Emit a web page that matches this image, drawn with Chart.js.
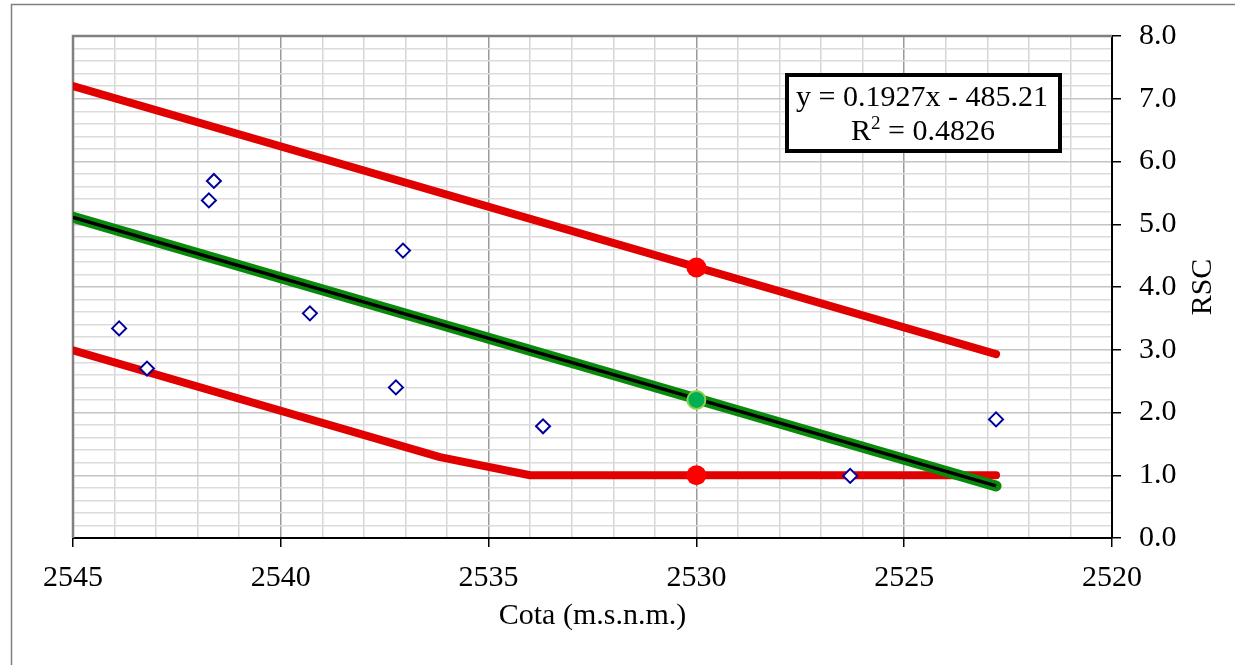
<!DOCTYPE html>
<html>
<head>
<meta charset="utf-8">
<title>RSC vs Cota</title>
<script src="https://cdn.jsdelivr.net/npm/chart.js@4/dist/chart.umd.min.js"></script>
<style>
  html, body { margin: 0; padding: 0; background: #fff; }
  #wrap { width: 1235px; height: 665px; }
</style>
</head>
<body>
<div id="wrap"><canvas id="chart_rsc" width="1235" height="665"></canvas></div>
<script>
const canvasRsc = document.getElementById('chart_rsc');

/* DATA */
// muestras: cota (m.s.n.m.) y RSC
const COTA = [2543.89, 2543.22, 2541.73, 2541.61, 2539.30, 2537.06, 2537.23, 2533.69, 2526.30, 2522.79];
const RSC  = [3.34, 2.70, 5.38, 5.69, 3.58, 4.58, 2.40, 1.78, 0.99, 1.89];

// linea de tendencia y banda
const TREND_X = [2545, 2522.79];
const TREND_Y = [5.11, 0.83];
const UPPER_X = [2545, 2522.79];
const UPPER_Y = [7.20, 2.93];
const LOWER_X = [2545, 2536.17, 2534.0, 2522.79];
const LOWER_Y = [2.99, 1.29, 1.0, 1.0];

// puntos marcados en cota 2530
const MARK_X = [2530];
const MARK_UPPER = [4.31];
const MARK_MID = [2.2];
const MARK_LOWER = [1.0];

const X_MIN = 2520, X_MAX = 2545, X_STEP = 1, X_MAJOR = 5;
const Y_MIN = 0, Y_MAX = 8, Y_STEP = 0.2, Y_MAJOR = 1;

const EQ_LINE_1 = 'y = 0.1927x - 485.21';
const EQ_LINE_2 = '0.4826';
const X_TITLE = 'Cota (m.s.n.m.)';
const Y_TITLE = 'RSC';

const FONT = "'Liberation Serif', 'Times New Roman', serif";
const FONT_SIZE = 30;

const toPoints = (xs, ys) => xs.map((x, i) => ({ x: x, y: ys[i] }));

const isMajor = (v, step) => Math.abs(v / step - Math.round(v / step)) < 1e-6;

/* DATA STRUCTURE */
const LINE = (data, color, width, order, cap) => {
    return {
        type: 'line',
        data: data,
        borderColor: color,
        backgroundColor: color,
        borderWidth: width,
        borderCapStyle: cap || 'round',
        borderJoinStyle: 'round',
        pointRadius: 0,
        fill: false,
        tension: 0,
        clip: 0,
        order: order
    };
};

const DOT = (data, fill, border, bw, r, order) => {
    return {
        type: 'scatter',
        data: data,
        backgroundColor: fill,
        borderColor: border,
        borderWidth: bw,
        pointRadius: r,
        pointHoverRadius: r,
        order: order
    };
};

/* extra drawing: frame, axis titles, equation box */
const decorations = {
    id: 'decorations',
    beforeDraw(chart) {
        const c = chart.ctx;
        c.save();
        c.fillStyle = '#fff';
        c.fillRect(0, 0, chart.width, chart.height);
        c.restore();
    },
    beforeDatasetsDraw(chart) {
        const c = chart.ctx;
        const a = chart.chartArea;
        c.save();
        c.strokeStyle = '#808080';
        c.lineWidth = 2.5;
        c.beginPath();
        c.moveTo(a.left, a.bottom);
        c.lineTo(a.left, a.top);
        c.lineTo(a.right, a.top);
        c.stroke();
        c.restore();
    },
    afterDraw(chart) {
        const c = chart.ctx;
        const a = chart.chartArea;
        c.save();

        // chart frame
        c.strokeStyle = '#7f7f7f';
        c.lineWidth = 1.5;
        c.beginPath();
        c.moveTo(11.5, chart.height);
        c.lineTo(11.5, 4.5);
        c.lineTo(chart.width, 4.5);
        c.stroke();

        // axis titles
        c.fillStyle = '#000';
        c.font = FONT_SIZE + 'px ' + FONT;
        c.textAlign = 'center';
        c.textBaseline = 'middle';
        c.fillText(X_TITLE, (a.left + a.right) / 2, 616);
        c.save();
        c.translate(1203, (a.top + a.bottom) / 2);
        c.rotate(-Math.PI / 2);
        c.fillText(Y_TITLE, 0, 0);
        c.restore();

        // equation box
        c.fillStyle = '#fff';
        c.fillRect(785, 73, 277, 80);
        c.strokeStyle = '#000';
        c.lineWidth = 4;
        c.strokeRect(787, 75, 273, 76);
        c.fillStyle = '#000';
        c.font = FONT_SIZE + 'px ' + FONT;
        c.textAlign = 'center';
        c.fillText(EQ_LINE_1, 922, 98);

        // R² line with superscript
        const r = 'R', sup = '2', rest = ' = ' + EQ_LINE_2;
        c.font = FONT_SIZE + 'px ' + FONT;
        const wR = c.measureText(r).width;
        const wRest = c.measureText(rest).width;
        c.font = '19px ' + FONT;
        const wSup = c.measureText(sup).width;
        const total = wR + wSup + wRest;
        let x0 = 923 - total / 2;
        c.textAlign = 'left';
        c.font = FONT_SIZE + 'px ' + FONT;
        c.fillText(r, x0, 132);
        c.font = '19px ' + FONT;
        c.fillText(sup, x0 + wR, 124);
        c.font = FONT_SIZE + 'px ' + FONT;
        c.fillText(rest, x0 + wR + wSup, 132);

        c.restore();
    }
};

/* Scatter Chart */
var chartRsc = new Chart(canvasRsc, {
    type: 'scatter',
    data: {
        datasets: [
            LINE(toPoints(UPPER_X, UPPER_Y), '#e00000', 8, 9),
            LINE(toPoints(LOWER_X, LOWER_Y), '#e00000', 8, 9),
            LINE(toPoints(TREND_X, TREND_Y), '#0a8a0a', 11, 8),
            LINE(toPoints(TREND_X, TREND_Y), '#000000', 3.5, 7, 'butt'),
            DOT(toPoints(MARK_X, MARK_UPPER), '#ff0000', '#ff0000', 0, 10, 5),
            DOT(toPoints(MARK_X, MARK_LOWER), '#ff0000', '#ff0000', 0, 10, 5),
            DOT(toPoints(MARK_X, MARK_MID), '#00b050', '#92d050', 2, 9, 4),
            {
                type: 'scatter',
                data: toPoints(COTA, RSC),
                pointStyle: 'rectRot',
                pointRadius: 7,
                pointHoverRadius: 7,
                borderColor: '#00009c',
                backgroundColor: '#ffffff',
                borderWidth: 2,
                order: 1
            }
        ]
    },
    options: {
        responsive: false,
        animation: false,
        events: [],
        layout: { padding: { left: 73, top: 35, right: 0, bottom: 0 } },
        plugins: {
            legend: { display: false },
            tooltip: { enabled: false }
        },
        scales: {
            x: {
                type: 'linear',
                position: 'bottom',
                reverse: true,
                min: X_MIN,
                max: X_MAX,
                afterFit: (scale) => { scale.height = 127; },
                ticks: {
                    stepSize: X_STEP,
                    maxTicksLimit: 100,
                    autoSkip: false,
                    maxRotation: 0,
                    padding: 13,
                    color: '#000',
                    font: { family: FONT, size: FONT_SIZE },
                    callback: (v) => isMajor(v, X_MAJOR) ? String(v) : ''
                },
                grid: {
                    color: (ctx) => isMajor(ctx.tick.value, X_MAJOR) ? '#9a9a9a' : '#d6d6d6',
                    lineWidth: 1.5,
                    tickLength: 9,
                    tickWidth: 1.5,
                    tickColor: (ctx) => isMajor(ctx.tick.value, X_MAJOR) ? '#000' : 'rgba(0,0,0,0)'
                },
                border: { display: true, color: '#000', width: 2 }
            },
            y: {
                type: 'linear',
                position: 'right',
                min: Y_MIN,
                max: Y_MAX,
                afterFit: (scale) => { scale.width = 123; },
                ticks: {
                    stepSize: Y_STEP,
                    maxTicksLimit: 100,
                    autoSkip: false,
                    padding: 18,
                    color: '#000',
                    font: { family: FONT, size: FONT_SIZE },
                    callback: (v) => isMajor(v, Y_MAJOR) ? v.toFixed(1) : ''
                },
                grid: {
                    color: (ctx) => isMajor(ctx.tick.value, Y_MAJOR) ? '#c4c4c4' : '#dcdcdc',
                    lineWidth: 1.5,
                    tickLength: 9,
                    tickWidth: 1.5,
                    tickColor: (ctx) => isMajor(ctx.tick.value, Y_MAJOR) ? '#000' : 'rgba(0,0,0,0)'
                },
                border: { display: true, color: '#000', width: 2 }
            }
        }
    },
    plugins: [decorations]
});
</script>
</body>
</html>
